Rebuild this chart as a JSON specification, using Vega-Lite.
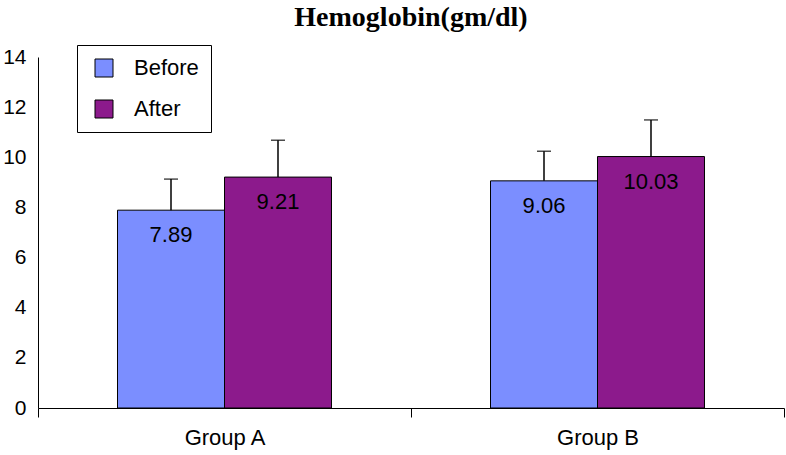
{
  "$schema": "https://vega.github.io/schema/vega-lite/v6.json",
  "width": 746,
  "height": 351,
  "autosize": "none",
  "padding": {"left": 38, "top": 57, "right": 2, "bottom": 47},
  "background": "white",
  "title": {"text": "Hemoglobin(gm/dl)", "font": "Liberation Serif", "fontSize": 28, "fontWeight": "bold", "color": "black", "anchor": "middle", "offset": 13},
  "config": {
    "view": {"stroke": null},
    "axis": {"domainColor": "black", "domainWidth": 1, "labelColor": "black", "labelFont": "Liberation Sans", "labelFontSize": 22, "grid": false, "tickColor": "black"}
  },
  "data": {
    "values": [
      {"group": "Group A", "period": "Before", "value": 7.89, "upper": 9.13},
      {"group": "Group A", "period": "After", "value": 9.21, "upper": 10.68},
      {"group": "Group B", "period": "Before", "value": 9.06, "upper": 10.24},
      {"group": "Group B", "period": "After", "value": 10.03, "upper": 11.49}
    ]
  },
  "encoding": {
    "x": {"field": "group", "type": "nominal", "scale": {"paddingInner": 0, "paddingOuter": 0},
      "axis": {"title": null, "labelAngle": 0, "tickBand": "extent", "tickSize": 9, "labelPadding": 10, "domainWidth": 1}},
    "xOffset": {"field": "period", "type": "nominal", "sort": ["Before", "After"], "scale": {"paddingInner": 0, "paddingOuter": 0.743}}
  },
  "layer": [
    {
      "mark": {"type": "bar", "stroke": "black", "strokeWidth": 1},
      "encoding": {
        "y": {"field": "value", "type": "quantitative", "scale": {"domain": [0, 14], "nice": false},
          "axis": {"title": null, "values": [0, 2, 4, 6, 8, 10, 12, 14], "ticks": false, "labelPadding": 12, "labelFontSize": 21}},
        "color": {"field": "period", "type": "nominal", "sort": ["Before", "After"],
          "scale": {"domain": ["Before", "After"], "range": ["#7b8eff", "#8c1a8c"]},
          "legend": {"title": null, "orient": "none", "legendX": 39, "legendY": -12, "strokeColor": "black", "padding": 12,
            "symbolType": "square", "symbolSize": 324, "symbolStrokeColor": "black", "symbolStrokeWidth": 1, "symbolOpacity": 1, "symbolOffset": 4,
            "labelFontSize": 22, "labelFont": "Liberation Sans", "labelColor": "black", "labelOffset": 19, "rowPadding": 19, "fillColor": "white"}}
      }
    },
    {
      "mark": {"type": "rule", "color": "black", "strokeWidth": 1.5},
      "encoding": {
        "y": {"field": "value", "type": "quantitative"},
        "y2": {"field": "upper"}
      }
    },
    {
      "mark": {"type": "tick", "color": "black", "thickness": 1.5, "size": 14},
      "encoding": {
        "y": {"field": "upper", "type": "quantitative"}
      }
    },
    {
      "mark": {"type": "text", "font": "Liberation Sans", "fontSize": 22, "color": "black", "baseline": "middle", "dy": 25},
      "encoding": {
        "y": {"field": "value", "type": "quantitative"},
        "text": {"field": "value", "type": "quantitative", "format": ".2f"}
      }
    }
  ]
}
